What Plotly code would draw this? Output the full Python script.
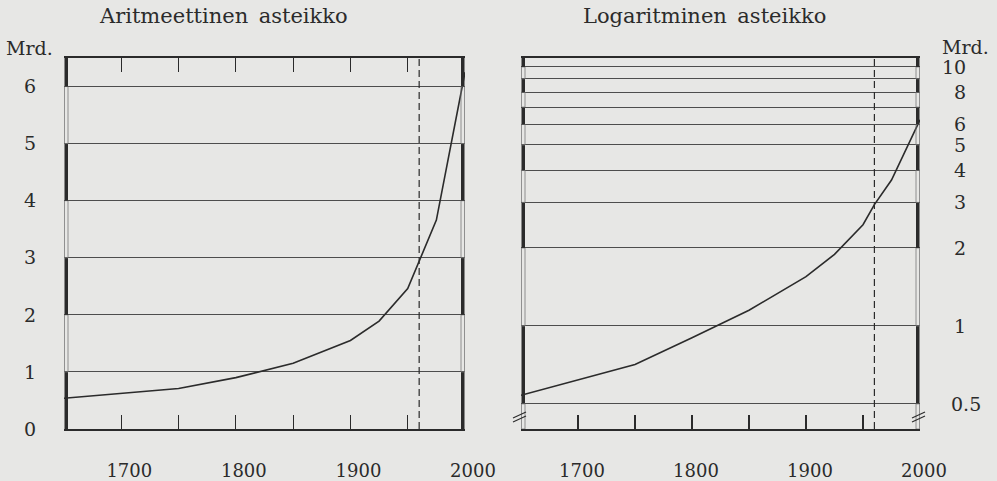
import numpy as np
import plotly.graph_objects as go

# ---------------- data ----------------
years = [1650, 1750, 1800, 1850, 1900, 1925, 1950, 1960, 1975, 2000]
population = [0.54, 0.71, 0.90, 1.15, 1.55, 1.89, 2.46, 2.94, 3.66, 6.25]
projection_start = 1960

x_tick_vals = [1700, 1750, 1800, 1850, 1900, 1950, 2000]
x_tick_text = ["1700", "", "1800", "", "1900", "", "2000"]
x_range = [1650, 2000]

lin_tick_vals = [0, 1, 2, 3, 4, 5, 6]
lin_tick_text = ["0", "1", "2", "3", "4", "5", "6"]
lin_top = 6.5

log_grid_vals = [0.5, 1, 2, 3, 4, 5, 6, 7, 8, 9, 10]
log_label_vals = [0.5, 1, 2, 3, 4, 5, 6, 8, 10]
log_label_text = ["0.5", "1", "2", "3", "4", "5", "6", "8", "10"]
log_bottom = 0.40
log_top = 10.83
log_break_level = 0.445

titles = ["Aritmeettinen\u2002asteikko", "Logaritminen\u2002asteikko"]
unit_label = "Mrd."

# ---------------- style ----------------
W, H = 997, 481
BG = "#e7e7e5"
INK = "#2b2b2b"
GRID = "#4d4d4d"
FONT = "DejaVu Serif"

def px_x(p):
    return p / W

def px_y(p):
    return 1 - p / H

left_dom = [px_x(64), px_x(465)]
right_dom = [px_x(521), px_x(920)]
y_dom = [px_y(429), px_y(58)]

fig = go.Figure()

line_style = dict(color=INK, width=1.6)
fig.add_trace(go.Scatter(x=years, y=population, mode="lines", line=line_style,
                         xaxis="x", yaxis="y", showlegend=False, hoverinfo="skip"))
fig.add_trace(go.Scatter(x=years, y=population, mode="lines", line=line_style,
                         xaxis="x2", yaxis="y2", showlegend=False, hoverinfo="skip"))

xaxis_common = dict(
    range=x_range, tickvals=x_tick_vals, ticktext=x_tick_text,
    ticks="inside", ticklen=14, tickwidth=1.2, tickcolor=INK,
    showline=True, linecolor=INK, linewidth=2, showgrid=False, zeroline=False,
    tickfont=dict(family=FONT, size=18, color=INK), ticklabelstandoff=24,
    automargin=False, fixedrange=True,
)

shapes = []
annotations = []

# edge "ruler" bands (alternating filled / open cells on both frame edges)
def edge_bands(xref, yref, bounds, extra_empty=None):
    out = []
    pieces = [(bounds[i], bounds[i + 1], i % 2 == 0) for i in range(len(bounds) - 1)]
    if extra_empty is not None:
        pieces.append((extra_empty[0], extra_empty[1], False))
    for anchor, (p0, p1) in zip(x_range, ((0.5, 4), (-4, -0.5))):
        for a, b, filled in pieces:
            out.append(dict(
                type="rect", xref=xref, yref=yref, xsizemode="pixel", xanchor=anchor,
                x0=p0, x1=p1, y0=a, y1=b,
                fillcolor=INK if filled else "rgba(0,0,0,0)",
                line=dict(width=0 if filled else 0.8, color="#7a7a7a"),
                layer="above",
            ))
    return out

lin_bounds = lin_tick_vals + [lin_top]
log_bounds = log_grid_vals + [log_top]
shapes += edge_bands("x", "y", lin_bounds)
shapes += edge_bands("x2", "y2", log_bounds, extra_empty=(log_bottom, log_grid_vals[0]))

# projection boundary (dashed)
for xr, yr in (("x", "y domain"), ("x2", "y2 domain")):
    shapes.append(dict(type="line", xref=xr, yref=yr, x0=projection_start, x1=projection_start,
                       y0=0, y1=1, line=dict(color=INK, width=1.2, dash="7px,4px"), layer="above"))

# axis break marks "//" on the log panel (domain-referenced so they are not clipped)
break_frac = (np.log10(log_break_level) - np.log10(log_bottom)) / (np.log10(log_top) - np.log10(log_bottom))
for anchor in (0, 1):
    for dy in (2, -2):
        shapes.append(dict(type="line", xref="x2 domain", yref="y2 domain",
                           xsizemode="pixel", ysizemode="pixel",
                           xanchor=anchor, yanchor=break_frac,
                           x0=-8, x1=5, y0=-3 + dy, y1=3 + dy,
                           line=dict(color=INK, width=1.1), layer="above"))

# titles and unit labels
title_font = dict(family=FONT, size=21, color=INK)
centered = dict(xref="paper", yref="paper", xanchor="center", yanchor="middle", showarrow=False)
annotations.append(dict(text=titles[0], x=px_x(223), y=px_y(16), font=title_font, **centered))
annotations.append(dict(text=titles[1], x=px_x(704), y=px_y(16), font=title_font, **centered))
unit_font = dict(family=FONT, size=19, color=INK)
annotations.append(dict(text=unit_label, x=px_x(29), y=px_y(48), font=unit_font, **centered))
annotations.append(dict(text=unit_label, x=px_x(965), y=px_y(47), font=unit_font, **centered))

# log-scale value labels (integer part right-aligned)
for v, t in zip(log_label_vals, log_label_text):
    annotations.append(dict(text=t, x=px_x(968), y=np.log10(v), xref="paper", yref="y2",
                            xanchor="right", yanchor="middle", xshift=15 if "." in t else 0,
                            showarrow=False, font=dict(family=FONT, size=19, color=INK)))

fig.update_layout(
    width=W, height=H, margin=dict(l=0, r=0, t=0, b=0, autoexpand=False),
    paper_bgcolor=BG, plot_bgcolor=BG, showlegend=False,
    xaxis=dict(domain=left_dom, anchor="y", mirror="ticks", ticklabelshift=8, **xaxis_common),
    yaxis=dict(domain=y_dom, anchor="x", range=[0, lin_top], tickvals=lin_tick_vals,
               ticktext=lin_tick_text, showgrid=True, gridcolor=GRID, gridwidth=1,
               zeroline=False, showline=False, ticks="",
               tickfont=dict(family=FONT, size=19, color=INK), ticklabelstandoff=27,
               automargin=False, fixedrange=True),
    xaxis2=dict(domain=right_dom, anchor="y2", mirror=True, ticklabelshift=4, **xaxis_common),
    yaxis2=dict(domain=y_dom, anchor="x2", type="log",
                range=[np.log10(log_bottom), np.log10(log_top)],
                tickvals=log_grid_vals, showticklabels=False, showgrid=True,
                gridcolor=GRID, gridwidth=1, zeroline=False, showline=False, ticks="",
                automargin=False, fixedrange=True),
    shapes=shapes,
    annotations=annotations,
)

fig.write_html(
    "out.html",
    config={"staticPlot": True},
    post_script="document.body.style.margin='0';document.body.style.overflow='hidden';",
)
